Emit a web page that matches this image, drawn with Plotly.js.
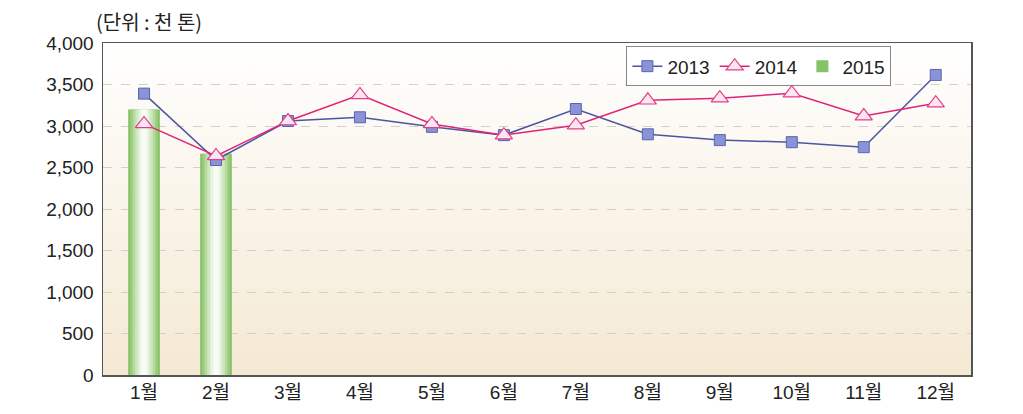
<!DOCTYPE html>
<html>
<head>
<meta charset="utf-8">
<script src="https://cdn.plot.ly/plotly-3.0.1.min.js"></script>
<style>html,body{margin:0;padding:0;background:#fff;}#chart{width:1023px;height:414px;}</style>
</head>
<body>
<div id="chart"></div>
<script>
const months = ['1월','2월','3월','4월','5월','6월','7월','8월','9월','10월','11월','12월'];
const v2013 = [3390, 2590, 3060, 3105, 2990, 2890, 3205, 2900, 2830, 2805, 2745, 3615];
const v2014 = [3025, 2640, 3060, 3375, 3025, 2890, 3010, 3310, 3335, 3395, 3120, 3275];
const months2015 = ['1월','2월'];
const v2015 = [3200, 2665];
const unitLabel = '(단위 : 천 톤)';
const yTicks = [0, 500, 1000, 1500, 2000, 2500, 3000, 3500, 4000];
const yTickText = ['0','500','1,000','1,500','2,000','2,500','3,000','3,500','4,000'];

const FONT = '"Liberation Sans", "Noto Sans CJK KR", Arial, sans-serif';

// gradient layers for the 2015 bars
const barLayers = [
  {w:0.44, c:'#86c266'},
  {w:0.38, c:'#9ccd80'},
  {w:0.31, c:'#b6da9f'},
  {w:0.24, c:'#cfe7c0'},
  {w:0.16, c:'#e6f3de'},
  {w:0.08, c:'#f8fcf5'}
];
const traces = [];
barLayers.forEach((L, i) => {
  traces.push({
    type:'bar', x: months2015, y: v2015, width: L.w,
    marker:{color:L.c, line:{width:0}},
    name:'2015', showlegend: i===0, legendrank: 3,
    hoverinfo:'skip'
  });
});
traces.push({
  type:'scatter', mode:'lines+markers', x: months, y: v2013, name:'2013', legendrank:1,
  line:{color:'#4b55a0', width:1.5},
  marker:{symbol:'square', size:11, color:'#8a93d6', line:{color:'#5a64b4', width:1}}
});
traces.push({
  type:'scatter', mode:'lines+markers', x: months, y: v2014, name:'2014', legendrank:2,
  line:{color:'#e0237a', width:1.5},
  marker:{symbol:'triangle-up', size:15, color:'#fde6f0', line:{color:'#e0408a', width:1.2}}
});

const bgSvg = '<svg xmlns="http://www.w3.org/2000/svg" width="10" height="100" preserveAspectRatio="none">' +
  '<defs><linearGradient id="g" x1="0" y1="0" x2="0" y2="1">' +
  '<stop offset="0" stop-color="#ffffff"/><stop offset="1" stop-color="#f4e9d3"/>' +
  '</linearGradient></defs><rect width="10" height="100" fill="url(#g)"/></svg>';

const layout = {
  width:1023, height:414,
  margin:{l:103, r:52, t:43, b:39},
  paper_bgcolor:'#ffffff', plot_bgcolor:'rgba(0,0,0,0)',
  font:{family:FONT, size:19, color:'#222'},
  barmode:'overlay',
  showlegend:true,
  legend:{orientation:'h', x:0.603, y:0.99, xanchor:'left', yanchor:'top',
    bgcolor:'rgba(255,255,255,0.9)', bordercolor:'#888', borderwidth:1,
    font:{family:FONT, size:19, color:'#222'}, traceorder:'normal', itemwidth:30,
    tracegroupgap:0},
  xaxis:{type:'category', categoryorder:'array', categoryarray: months,
    range:[-0.57, 11.49], showgrid:false, showline:true, linecolor:'#555', linewidth:1.5,
    mirror:true, ticks:'', tickfont:{family:FONT, size:19, color:'#222'}, fixedrange:true},
  yaxis:{range:[0,4000], tickvals:yTicks, ticktext:yTickText, showgrid:true,
    gridcolor:'#d4d0c8', griddash:'dash', gridwidth:1, showline:true, linecolor:'#555',
    linewidth:1.5, mirror:true, ticks:'', zeroline:false, ticklabelstandoff:4,
    tickfont:{family:FONT, size:19, color:'#222'}, fixedrange:true},
  images:[{source:'data:image/svg+xml;charset=utf-8,' + encodeURIComponent(bgSvg),
    xref:'paper', yref:'paper', x:0, y:1, sizex:1, sizey:1, sizing:'stretch',
    xanchor:'left', yanchor:'top', layer:'below'}],
  annotations:[{text:unitLabel, xref:'paper', yref:'paper', x:-0.01, y:1.0,
    xanchor:'left', yanchor:'bottom', yshift:5, showarrow:false,
    font:{family:'"Noto Sans CJK KR", sans-serif', size:20, color:'#222'}}]
};
Plotly.newPlot('chart', traces, layout, {displayModeBar:false, staticPlot:true});
</script>
</body>
</html>
